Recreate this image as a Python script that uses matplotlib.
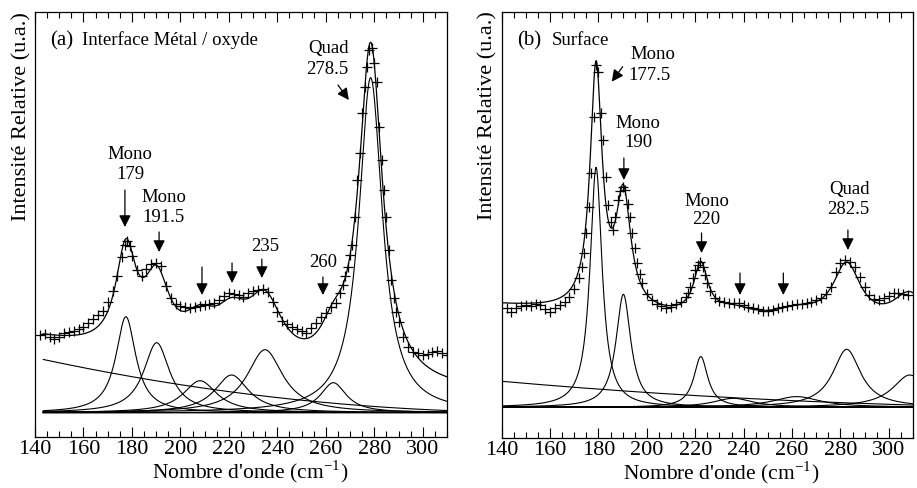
import numpy as np
import matplotlib
matplotlib.use("Agg")
import matplotlib.pyplot as plt
from matplotlib.ticker import MultipleLocator

plt.rcParams['font.family'] = ['Liberation Serif', 'DejaVu Serif']
plt.rcParams['mathtext.fontset'] = 'stix'

# ---------------- Panel (a) : Interface Metal / oxyde ----------------
a_wn = [142, 144, 146, 148, 150, 152, 154, 156, 158, 160, 162, 164, 166, 168, 170,
        172, 174, 176, 177, 178, 179, 180, 182, 184, 186, 188, 190, 192, 194, 196,
        198, 200, 202, 204, 206, 208, 210, 212, 214, 216, 218, 220, 222, 224, 226,
        228, 230, 232, 234, 236, 238, 240, 242, 244, 246, 248, 250, 252, 254, 256,
        258, 260, 262, 264, 266, 267, 268, 269, 270, 271, 272, 273, 274, 275, 276,
        277, 278, 279, 280, 281, 282, 283, 284, 285, 286, 287, 288, 289, 290, 292,
        294, 296, 298, 300, 302, 304, 306, 308, 310]
a_int = [102.0, 102.7, 100.3, 97.7, 99.7, 103.7, 105.3, 106.3, 107.7, 109.7, 114.3,
         117.7, 122.0, 126.3, 135.3, 146.3, 161.0, 180.3, 192.0, 196.3, 191.0, 181.0,
         167.0, 161.0, 167.7, 173.0, 174.3, 171.0, 151.0, 138.7, 133.0, 131.0, 129.7,
         128.7, 129.7, 131.0, 132.0, 133.0, 134.3, 137.0, 141.0, 143.7, 143.0, 141.7,
         140.3, 143.7, 145.7, 147.0, 147.7, 145.3, 135.3, 125.3, 116.3, 113.0, 110.3,
         107.7, 105.7, 104.3, 108.7, 113.7, 120.3, 123.7, 129.7, 134.3, 143.7, 152.0,
         161.0, 170.3, 182.0, 192.0, 220.3, 257.0, 283.7, 323.7, 350.3, 370.3, 387.0,
         388.7, 373.7, 355.3, 310.3, 277.0, 247.0, 220.3, 187.0, 157.0, 138.7, 125.3,
         115.3, 100.3, 89.7, 85.3, 83.7, 82.0, 83.0, 85.3, 86.3, 83.7, 82.0]
# fitted Lorentzian components: centre, height, half width
a_centers = [177.5, 190.2, 208.1, 221.1, 234.9, 263.1, 278.5]
a_heights = [96, 70, 32, 37.7, 63, 30, 335]
a_hwhm = [5.0, 6.5, 8.5, 8.5, 9.0, 6.5, 5.9]
a_baseline = 24.3
a_offset = 20.0
a_bg = [55.0, -0.525, 0.00126]

# ---------------- Panel (b) : Surface ----------------
b_wn = [142, 144, 146, 148, 150, 152, 154, 156, 158, 160, 162, 164, 166, 168, 170,
        172, 173, 174, 175, 176, 177, 178, 179, 180, 181, 182, 183, 184, 185, 186,
        187, 188, 189, 190, 191, 192, 193, 194, 195, 196, 197, 198, 200, 202, 204,
        206, 208, 210, 212, 214, 216, 217, 218, 219, 220, 221, 222, 223, 224, 225,
        226, 228, 230, 232, 234, 236, 238, 240, 242, 244, 246, 248, 250, 252, 254,
        256, 258, 260, 262, 264, 266, 268, 270, 272, 274, 276, 278, 280, 282, 284,
        286, 288, 290, 292, 294, 296, 298, 300, 302, 304, 306, 308]
b_int = [129.7, 126.3, 129.7, 132.0, 133.0, 132.0, 134.0, 133.0, 128.7, 126.3, 129.7,
         133.0, 136.3, 141.3, 148.7, 159.7, 171.3, 184.7, 204.7, 231.3, 264.7, 321.3,
         373.0, 366.3, 324.7, 298.0, 261.3, 233.0, 216.3, 208.0, 221.3, 238.0, 247.3,
         251.3, 248.0, 234.0, 221.3, 204.7, 189.7, 174.7, 164.0, 154.7, 144.0, 138.0,
         134.0, 132.0, 129.7, 131.3, 134.0, 136.3, 140.7, 144.7, 151.3, 159.7, 168.0,
         173.0, 176.3, 171.3, 163.0, 154.7, 147.3, 140.3, 137.0, 135.7, 135.3, 134.7,
         134.7, 133.0, 131.3, 129.7, 128.7, 127.3, 127.3, 128.0, 129.7, 131.3, 132.0,
         133.0, 133.7, 134.3, 134.7, 135.7, 138.0, 140.3, 144.0, 151.3, 166.3, 174.7,
         178.0, 175.7, 171.3, 161.3, 151.3, 143.0, 139.0, 138.0, 139.7, 142.3, 144.7,
         144.7, 144.0, 143.0]
b_centers = [179.0, 190.3, 222.3, 235.7, 261.9, 282.6, 308.7]
b_heights = [240, 113, 50.7, 9, 10.7, 58, 32.3]
b_hwhm = [3.0, 3.7, 3.5, 10.0, 12.0, 7.0, 8.7]
b_baseline = 30.7
b_offset = 76.0
b_bg = [26.0, -0.2126, 0.00043]


def lorentz(x, c, h, g):
    return h / (1.0 + ((x - c) / g) ** 2)


def draw_panel(ax, wn, inten, centers, heights, hwhm, base, offset, bg, xstart):
    x = np.linspace(xstart, 310, 1200)
    t = x - 140
    bgc = bg[0] + bg[1] * t + bg[2] * t ** 2
    total = base + offset + bgc
    for c, h, g in zip(centers, heights, hwhm):
        comp = lorentz(x, c, h, g)
        total = total + comp
        ax.plot(x, base + comp, color='black', lw=0.8)
    ax.plot(x, base + bgc, color='black', lw=0.8)
    ax.plot(x, np.full_like(x, base), color='black', lw=1.0)
    ax.plot(x, total, color='black', lw=0.9)
    ax.plot(wn, inten, linestyle='none', marker='+', markersize=6.5,
            markeredgewidth=0.9, color='black')


def style_axes(ax, ymax):
    ax.set_xlim(140, 310)
    ax.set_ylim(0, ymax)
    ax.xaxis.set_major_locator(MultipleLocator(20))
    ax.xaxis.set_minor_locator(MultipleLocator(5))
    ax.set_yticks([])
    ax.tick_params(axis='x', which='both', direction='in', top=True, bottom=True,
                   labelsize=16, pad=2, width=0.8)
    ax.tick_params(axis='x', which='major', length=7)
    ax.tick_params(axis='x', which='minor', length=4)
    for s in ax.spines.values():
        s.set_linewidth(0.9)


arrow_kw = dict(arrowstyle='-|>,head_length=0.5,head_width=0.25',
                mutation_scale=14, color='black', lw=0.9, shrinkA=0, shrinkB=0)


def arrow(ax, x0, y0, x1, y1):
    ax.annotate('', xy=(x1, y1), xytext=(x0, y0), arrowprops=arrow_kw)


fig = plt.figure(figsize=(9.17, 4.88), dpi=100)
axa = fig.add_axes([0.03817, 0.10451, 0.44929, 0.87090])
axb = fig.add_axes([0.54711, 0.10246, 0.44853, 0.87295])

draw_panel(axa, a_wn, a_int, a_centers, a_heights, a_hwhm, a_baseline, a_offset, a_bg, 143.4)
draw_panel(axb, b_wn, b_int, b_centers, b_heights, b_hwhm, b_baseline, b_offset, b_bg, 140)
style_axes(axa, 425)
style_axes(axb, 426)

for ax, xl in ((axa, 0.522), (axb, 0.533)):
    ax.set_xlabel("Nombre d'onde (cm$^{\\mathregular{-1}}$)", fontsize=15.5)
    ax.set_ylabel("Intensité Relative (u.a.)", fontsize=16)
    ax.xaxis.set_label_coords(xl, -0.052)
    ax.xaxis.label.set_va('top')
axa.yaxis.set_label_coords(-0.0097, 0.753)
axb.yaxis.set_label_coords(-0.0114, 0.756)

fs = 13.5
# panel (a) annotations
axa.text(146.2, 392, '(a)', fontsize=15, ha='left', va='baseline')
axa.text(159.4, 392, 'Interface Métal / oxyde', fontsize=fs, ha='left', va='baseline')
axa.text(179.2, 282, 'Mono', fontsize=fs, ha='center', va='center')
axa.text(179.2, 262, '179', fontsize=fs, ha='center', va='center')
arrow(axa, 177.1, 247, 177.1, 210)
axa.text(193.2, 239, 'Mono', fontsize=fs, ha='center', va='center')
axa.text(193.2, 219, '191.5', fontsize=fs, ha='center', va='center')
arrow(axa, 191.2, 205, 191.2, 185)
arrow(axa, 208.9, 170, 208.9, 142)
arrow(axa, 221.3, 174, 221.3, 154)
axa.text(234.9, 190, '235', fontsize=fs, ha='center', va='center')
arrow(axa, 233.6, 178, 233.6, 159)
axa.text(258.8, 174, '260', fontsize=fs, ha='center', va='center')
arrow(axa, 258.8, 160, 258.8, 142)
axa.text(260.9, 388, 'Quad', fontsize=fs, ha='center', va='center')
axa.text(260.5, 367, '278.5', fontsize=fs, ha='center', va='center')
arrow(axa, 265.0, 352, 269.5, 337)

# panel (b) annotations
axb.text(146.3, 393, '(b)', fontsize=15, ha='left', va='baseline')
axb.text(160.8, 393, 'Surface', fontsize=fs, ha='left', va='baseline')
axb.text(202.4, 383, 'Mono', fontsize=fs, ha='center', va='center')
axb.text(201.3, 362, '177.5', fontsize=fs, ha='center', va='center')
arrow(axb, 190.0, 371.3, 185.5, 356.3)
axb.text(196.4, 314, 'Mono', fontsize=fs, ha='center', va='center')
axb.text(196.4, 295, '190', fontsize=fs, ha='center', va='center')
arrow(axb, 190.5, 280, 190.5, 258)
axb.text(224.7, 236.3, 'Mono', fontsize=fs, ha='center', va='center')
axb.text(224.7, 218, '220', fontsize=fs, ha='center', va='center')
arrow(axb, 222.6, 205, 222.6, 185)
arrow(axb, 238.5, 165, 238.5, 143)
arrow(axb, 256.4, 165, 256.4, 143)
axb.text(283.6, 248.7, 'Quad', fontsize=fs, ha='center', va='center')
axb.text(283.2, 228, '282.5', fontsize=fs, ha='center', va='center')
arrow(axb, 283.1, 208, 283.1, 188)

fig.savefig('out.png', dpi=100)
